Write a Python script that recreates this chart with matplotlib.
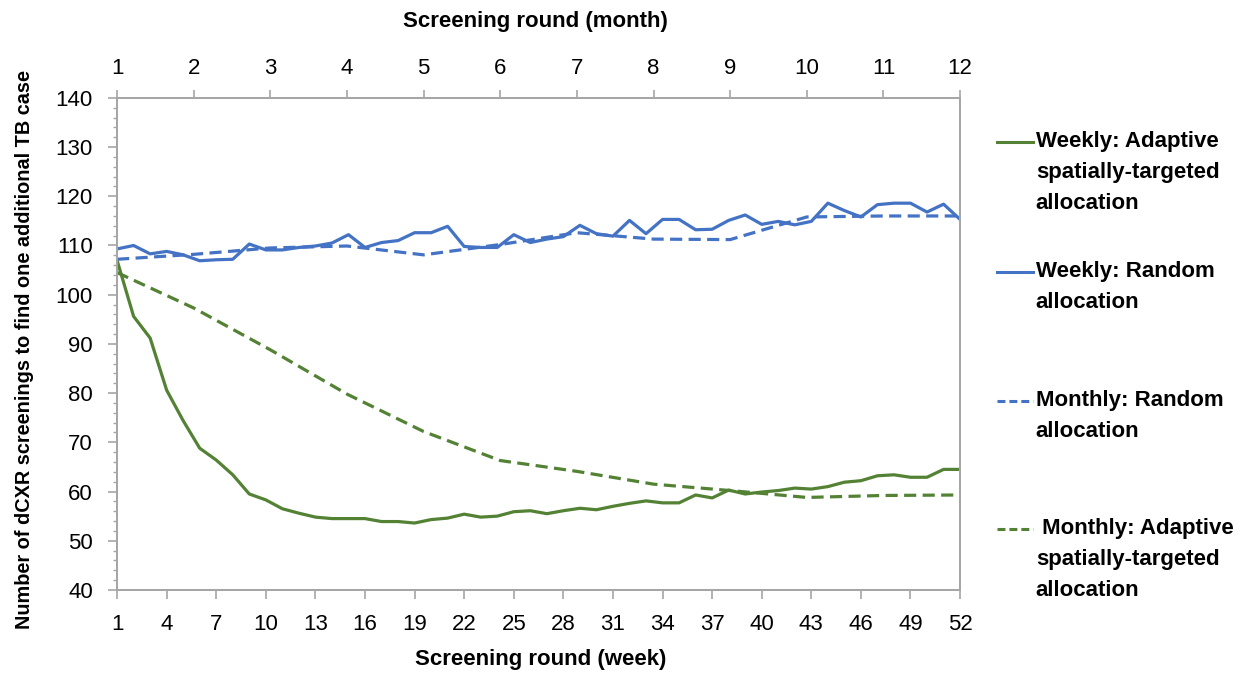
import matplotlib
matplotlib.use("Agg")
import matplotlib.pyplot as plt
from matplotlib.lines import Line2D
from matplotlib.ticker import MultipleLocator

# ── data ───────────────────────────────────────────────────────────────────
weeks = list(range(1, 53))
weekly_adaptive = [
    107.0, 95.6, 91.2, 80.6, 74.4, 68.8, 66.4, 63.4, 59.5, 58.3,
    56.5, 55.6, 54.8, 54.5, 54.5, 54.5, 53.9, 53.9, 53.6, 54.3,
    54.6, 55.4, 54.8, 55.0, 55.9, 56.1, 55.5, 56.1, 56.6, 56.3,
    57.0, 57.6, 58.1, 57.7, 57.7, 59.3, 58.7, 60.3, 59.5, 59.9,
    60.2, 60.7, 60.5, 61.0, 61.9, 62.2, 63.2, 63.4, 62.9, 62.9,
    64.5, 64.5,
]
weekly_random = [
    109.3, 110.0, 108.3, 108.8, 108.1, 106.9, 107.1, 107.2, 110.3, 109.1,
    109.1, 109.6, 109.9, 110.5, 112.2, 109.6, 110.6, 111.0, 112.6, 112.6,
    113.9, 109.8, 109.6, 109.6, 112.2, 110.6, 111.3, 111.8, 114.1, 112.4,
    111.9, 115.1, 112.4, 115.3, 115.3, 113.2, 113.3, 115.1, 116.2, 114.3,
    114.9, 114.2, 114.9, 118.6, 117.1, 115.8, 118.3, 118.6, 118.6, 116.8,
    118.4, 115.3,
]
months = list(range(1, 13))
monthly_random = [107.2, 108.2, 109.5, 109.9, 108.1, 110.2, 112.6, 111.3, 111.2, 115.8, 116.0, 116.0]
monthly_adaptive = [104.5, 97.3, 88.8, 79.8, 72.2, 66.3, 64.1, 61.5, 60.2, 58.8, 59.2, 59.3]

week_ticks = list(range(1, 53, 3))
labels = [
    "Weekly: Adaptive\nspatially-targeted\nallocation",
    "Weekly: Random\nallocation",
    "Monthly: Random\nallocation",
    " Monthly: Adaptive\nspatially-targeted\nallocation",
]

GREEN = "#548235"
BLUE = "#4472C4"
GREY = "#A6A6A6"
FONT = ["Liberation Sans", "DejaVu Sans"]
plt.rcParams["font.family"] = FONT

# ── figure ─────────────────────────────────────────────────────────────────
fig = plt.figure(figsize=(12.48, 6.75), dpi=100)
ax = fig.add_axes([0.0938, 0.126, 0.6755, 0.729])
ax2 = ax.twiny()

lw = 2.3
dash = (3.8, 2.0)
l_wa, = ax.plot(weeks, weekly_adaptive, color=GREEN, lw=lw, solid_joinstyle="round")
l_wr, = ax.plot(weeks, weekly_random, color=BLUE, lw=lw, solid_joinstyle="round")
l_mr, = ax2.plot(months, monthly_random, color=BLUE, lw=lw, dashes=dash)
l_ma, = ax2.plot(months, monthly_adaptive, color=GREEN, lw=lw, dashes=dash)

ax.set_xlim(1, 52)
ax.set_ylim(40, 140)
ax2.set_xlim(1, 12)

ax.set_xticks(week_ticks)
ax.yaxis.set_major_locator(MultipleLocator(10))
ax.yaxis.set_minor_locator(MultipleLocator(2))
ax2.set_xticks(months)

for a in (ax, ax2):
    for s in a.spines.values():
        s.set_color(GREY)
        s.set_linewidth(1.4)
ax.tick_params(axis="both", which="major", direction="out", length=6.5, width=1.2,
               color=GREY, labelsize=16, pad=11)
ax.tick_params(axis="y", which="minor", direction="out", length=3, width=1.0, color=GREY)
ax2.tick_params(axis="x", direction="out", length=6, width=1.2, color=GREY,
                labelsize=16, pad=7.5)

ax.set_xlabel("Screening round (week)", fontsize=16, fontweight="bold")
ax.xaxis.set_label_coords(0.503, -0.12)
ax2.set_xlabel("Screening round (month)", fontsize=16, fontweight="bold")
ax2.xaxis.set_label_coords(0.496, 1.145)
ax.set_ylabel("Number of dCXR screenings to find one additional TB case",
              fontsize=14.3, fontweight="bold")
ax.yaxis.set_label_coords(-0.099, 0.488)

# ── legend (manual, handle beside first line of each label) ────────────────
handles = [l_wa, l_wr, l_mr, l_ma]
handle_y = [0.7896, 0.597, 0.406, 0.2163]
for h, lab, y in zip(handles, labels, handle_y):
    dashed = h in (l_mr, l_ma)
    fig.add_artist(Line2D([0.7987, 0.8275], [y, y], transform=fig.transFigure,
                          color=h.get_color(), lw=2.2,
                          dashes=(2.6, 1.3) if dashed else (None, None)))
    fig.text(0.830, y + 0.0163, lab, ha="left", va="top",
             fontsize=16, fontweight="bold", linespacing=1.64)

fig.savefig("out.png", dpi=100)
